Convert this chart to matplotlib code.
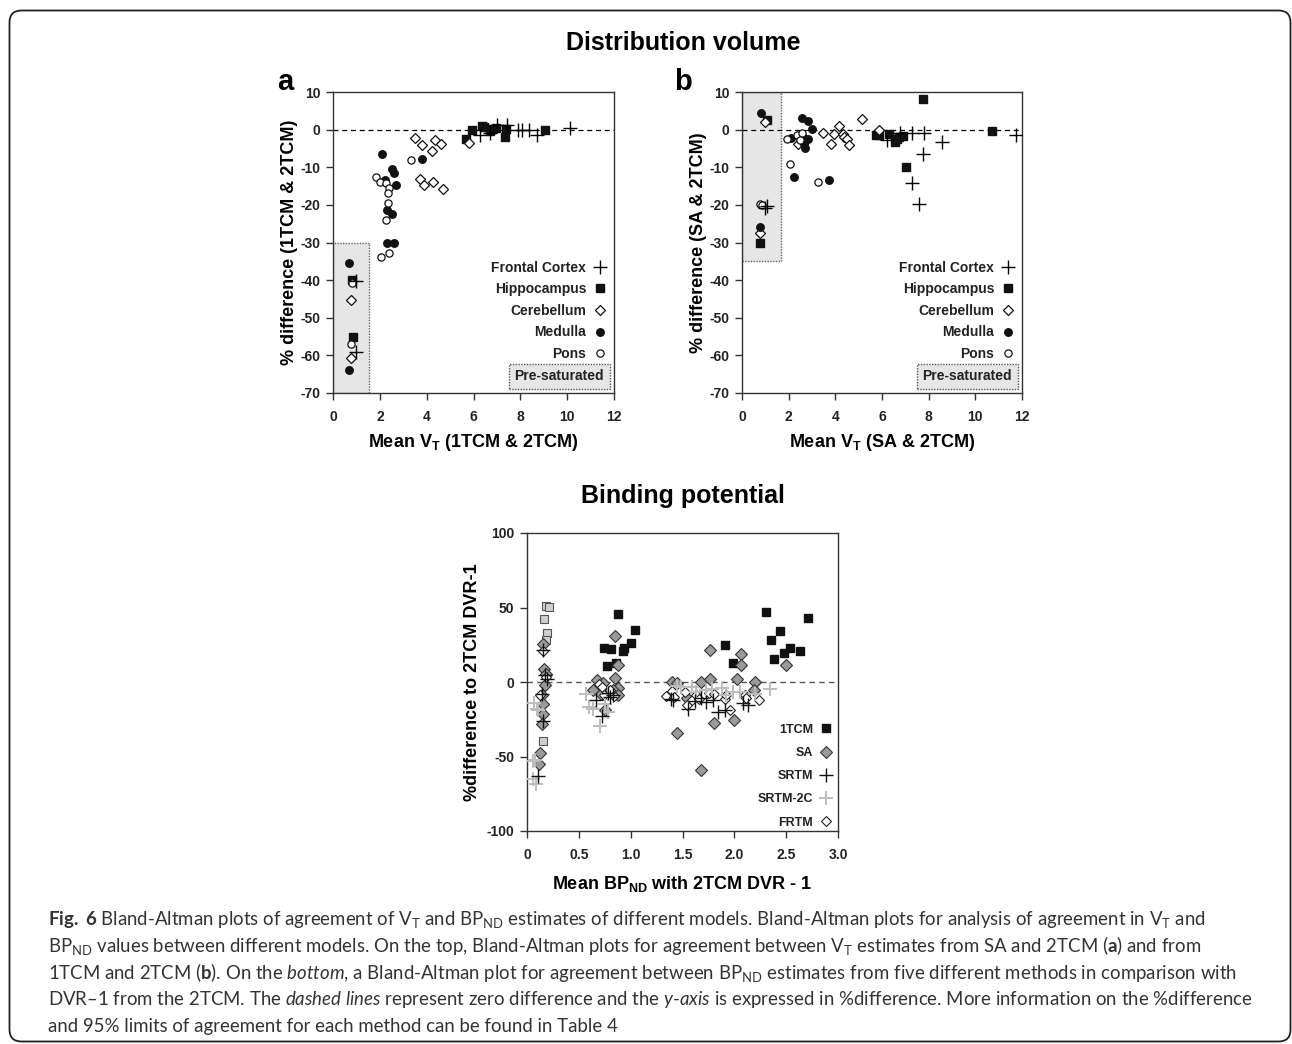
import matplotlib
matplotlib.use("Agg")
import matplotlib.pyplot as plt
from matplotlib.patches import FancyBboxPatch, Rectangle
from matplotlib.transforms import IdentityTransform

# ---------------- data ----------------
# Panel a : 1TCM vs 2TCM
a_fc_x = [0.97, 0.97, 6.28, 6.70, 6.99, 7.42, 7.92, 8.06, 8.38, 8.70, 10.10]
a_fc_y = [-40.2, -59.1, -1.5, -1.0, 1.2, 1.2, -0.2, -0.2, -0.2, -1.5, 0.3]
a_hip_x = [0.83, 0.85, 5.69, 5.94, 6.38, 6.43, 6.69, 6.80, 6.98, 7.35, 7.40, 9.04]
a_hip_y = [-40.0, -55.2, -2.4, 0.0, 0.9, 0.7, -0.3, 0.2, 0.5, -2.0, 0.2, 0.0]
a_cer_x = [0.75, 0.75, 3.49, 3.81, 4.23, 4.37, 4.60, 5.79, 3.72, 3.88, 4.27, 4.71]
a_cer_y = [-45.3, -60.7, -2.2, -4.1, -5.6, -2.8, -3.7, -3.5, -13.2, -14.7, -13.8, -15.7]
a_med_x = [0.68, 0.68, 2.09, 2.23, 2.52, 2.60, 2.68, 2.32, 2.53, 2.31, 2.62, 3.80]
a_med_y = [-35.4, -64.0, -6.4, -13.3, -10.5, -11.4, -14.6, -21.4, -22.4, -30.2, -30.2, -7.9]
a_pons_x = [0.80, 0.77, 1.85, 2.02, 2.25, 2.39, 2.35, 2.35, 2.28, 2.07, 2.38, 3.35]
a_pons_y = [-40.7, -56.9, -12.5, -14.0, -14.3, -15.5, -16.8, -19.5, -24.1, -33.8, -32.9, -8.2]
a_presat_x = [0.0, 1.52]
a_presat_y = [-70.0, -30.0]

# Panel b : SA vs 2TCM
b_fc_x = [1.07, 0.97, 6.20, 6.77, 7.27, 7.81, 7.74, 8.58, 7.30, 7.60, 11.76]
b_fc_y = [-20.3, -20.9, -2.8, -1.0, -0.8, -0.8, -6.5, -3.4, -14.1, -19.8, -1.3]
b_hip_x = [1.07, 0.78, 7.74, 5.73, 5.89, 6.30, 6.56, 6.66, 6.74, 6.91, 7.03, 10.73]
b_hip_y = [2.5, -30.0, 8.2, -1.3, -1.3, -1.1, -3.3, -2.4, -2.0, -1.8, -10.0, -0.4]
b_cer_x = [0.97, 0.78, 2.38, 3.49, 3.82, 3.95, 4.15, 4.32, 4.37, 4.49, 4.59, 5.14, 5.89]
b_cer_y = [2.0, -27.6, -3.7, -0.9, -3.9, -1.2, 0.9, -1.2, -1.9, -2.6, -4.1, 2.7, -0.2]
b_med_x = [0.80, 0.78, 2.11, 2.24, 2.59, 2.61, 2.82, 2.64, 2.68, 2.83, 3.01, 3.71]
b_med_y = [4.4, -25.8, -2.1, -12.5, 3.2, -1.9, -2.6, -3.7, -4.8, 2.2, 0.1, -13.3]
b_pons_x = [0.78, 0.85, 1.91, 2.07, 2.35, 2.57, 2.49, 3.25]
b_pons_y = [-19.9, -20.0, -2.6, -9.2, -1.5, -0.9, -2.8, -14.0]
b_presat_x = [0.0, 1.68]
b_presat_y = [-35.0, 10.0]

# Bottom : BPND
bp_1tcm_x = [0.74, 0.81, 0.77, 0.86, 0.88, 0.93, 0.94, 1.00, 1.04, 1.91, 1.99,
             2.31, 2.35, 2.38, 2.44, 2.48, 2.54, 2.63, 2.71]
bp_1tcm_y = [22.8, 22.1, 11.0, 13.0, 45.4, 21.0, 23.1, 26.4, 34.7, 24.6, 12.8,
             47.0, 28.0, 15.7, 34.0, 19.5, 23.0, 21.0, 43.2]
bp_light_x = [0.18, 0.21, 0.16, 0.19, 0.18, 0.15]
bp_light_y = [51.0, 50.5, 42.5, 33.0, 28.3, -39.3]
bp_sa_x = [0.15, 0.16, 0.18, 0.17, 0.14, 0.15, 0.15, 0.14, 0.13, 0.12,
           0.68, 0.73, 0.64, 0.75, 0.85, 0.85, 0.88, 0.88, 0.71, 0.83, 0.88,
           1.40, 1.45, 1.45, 1.68, 1.68, 1.77, 1.77, 1.80, 2.00, 2.03, 2.06,
           2.06, 2.20, 2.19, 2.50, 1.54]
bp_sa_y = [25.8, 9.0, 5.6, -2.2, -8.9, -14.5, -21.7, -28.0, -47.4, -55.0,
           1.1, -0.7, -5.1, -18.6, 30.6, 2.9, -3.8, 11.2, -7.8, -5.6, -8.9,
           0.0, -0.7, -34.0, -59.3, 0.0, 21.7, 1.8, -27.3, -25.7, 1.8, 19.0,
           11.6, 0.0, -5.6, 11.6, -10.5]
bp_srtm_x = [0.15, 0.17, 0.19, 0.14, 0.15, 0.11, 0.67, 0.72, 0.78, 0.80, 0.83,
             1.39, 1.41, 1.55, 1.73, 1.79, 1.84, 1.91, 2.08, 2.13, 1.62, 1.68]
bp_srtm_y = [21.3, 5.0, 2.2, -7.8, -26.4, -63.0, -11.8, -22.6, -7.4, -10.0, -8.9,
             -11.2, -12.3, -17.9, -13.4, -12.3, -20.4, -19.0, -14.0, -15.2, -13.0, -11.0]
bp_srtm2c_x = [0.06, 0.09, 0.08, 0.06, 0.10, 0.07, 0.11, 0.57, 0.60, 0.64, 0.70,
               0.75, 0.78, 0.78, 1.45, 1.49, 1.59, 1.63, 1.73, 1.78, 1.88, 1.92,
               1.99, 2.05, 2.20, 2.34]
bp_srtm2c_y = [-65.4, -68.2, -52.3, -52.7, -17.9, -13.8, -19.0, -7.8, -16.5, -17.9,
               -29.2, -14.5, -20.1, -7.8, -2.9, -3.4, -3.3, -6.7, -5.6, -5.0, -3.7,
               -8.9, -6.7, -6.7, -7.8, -4.5]
bp_frtm_x = [0.15, 0.18, 0.13, 0.69, 0.72, 0.77, 0.80, 0.84, 0.74, 1.34, 1.40,
             1.42, 1.52, 1.54, 1.59, 1.63, 1.66, 1.76, 1.80, 1.91, 1.92, 1.96,
             2.10, 2.11, 2.24]
bp_frtm_y = [20.8, 3.4, -9.0, -1.6, -3.4, -6.7, -5.6, -9.6, -8.9, -9.6, -6.3,
             -10.0, -6.7, -15.7, -11.9, -8.9, -11.2, -7.2, -7.8, -11.2, -8.9, -18.6,
             -8.9, -10.5, -11.9]

region_labels = ["Frontal Cortex", "Hippocampus", "Cerebellum", "Medulla", "Pons"]
method_labels = ["1TCM", "SA", "SRTM", "SRTM-2C", "FRTM"]
vt_xticks = [0, 2, 4, 6, 8, 10, 12]
vt_yticks = [-70, -60, -50, -40, -30, -20, -10, 0, 10]
bp_xticks = [0, 0.5, 1.0, 1.5, 2.0, 2.5, 3.0]
bp_xticklabels = ["0", "0.5", "1.0", "1.5", "2.0", "2.5", "3.0"]
bp_yticks = [-100, -50, 0, 50, 100]

caption_lines = [
    r"$\mathbf{Fig.}$ $\mathbf{6}$ Bland-Altman plots of agreement of V$_\mathregular{T}$ and BP$_\mathregular{ND}$ estimates of different models. Bland-Altman plots for analysis of agreement in V$_\mathregular{T}$ and",
    r"BP$_\mathregular{ND}$ values between different models. On the top, Bland-Altman plots for agreement between V$_\mathregular{T}$ estimates from SA and 2TCM ($\mathbf{a}$) and from",
    r"1TCM and 2TCM ($\mathbf{b}$). On the $\mathit{bottom}$, a Bland-Altman plot for agreement between BP$_\mathregular{ND}$ estimates from five different methods in comparison with",
    r"DVR–1 from the 2TCM. The $\mathit{dashed\ lines}$ represent zero difference and the $\mathit{y}$-$\mathit{axis}$ is expressed in %difference. More information on the %difference",
    r"and 95% limits of agreement for each method can be found in Table 4",
]

# ---------------- style ----------------
plt.rcParams['font.family'] = ['Liberation Sans', 'DejaVu Sans']
plt.rcParams['font.weight'] = 'bold'
plt.rcParams['axes.labelweight'] = 'bold'
plt.rcParams['axes.unicode_minus'] = False
plt.rcParams['mathtext.fontset'] = 'custom'
plt.rcParams['mathtext.rm'] = 'Lato:weight=normal'
plt.rcParams['mathtext.it'] = 'Lato:style=italic:weight=normal'
plt.rcParams['mathtext.bf'] = 'Lato:weight=bold'
plt.rcParams['mathtext.default'] = 'regular'

W, H = 1292, 1044
fig = plt.figure(figsize=(W / 100, H / 100), dpi=100)
fig.patch.set_facecolor('white')

def px_axes(l, t, r, b):
    return fig.add_axes([l / W, 1 - b / H, (r - l) / W, (b - t) / H])

SPINE = '#333333'

def style_axes(ax):
    for s in ax.spines.values():
        s.set_color(SPINE)
        s.set_linewidth(1.0)
    ax.tick_params(direction='out', length=5, width=1.0, color=SPINE,
                   labelsize=10, pad=4, top=False, right=False)
    ax.tick_params(axis='x', pad=7)
    for lab in ax.get_xticklabels() + ax.get_yticklabels():
        lab.set_fontweight('bold')
        lab.set_color('#222222')

def vt_panel(ax, fc, hip, cer, med, pons, presat, xlabel, ylabel):
    px, py = presat
    ax.add_patch(Rectangle((px[0], py[0]), px[1] - px[0], py[1] - py[0],
                           facecolor='#e6e6e6', edgecolor='#666666', lw=1.0,
                           ls=(0, (1, 1)), zorder=1))
    ax.axhline(0, color='black', lw=0.9, ls=(0, (4, 3)), zorder=2)
    h1, = ax.plot(fc[0], fc[1], ls='none', marker='+', ms=10, mew=1.0,
                  color='black', zorder=5)
    h2, = ax.plot(hip[0], hip[1], ls='none', marker='s', ms=5.4, mfc='#111111',
                  mec='#111111', zorder=4)
    h3, = ax.plot(cer[0], cer[1], ls='none', marker='D', ms=4.6, mfc='white',
                  mec='#111111', mew=0.9, zorder=4)
    h4, = ax.plot(med[0], med[1], ls='none', marker='o', ms=5.4, mfc='#111111',
                  mec='#111111', zorder=4)
    h5, = ax.plot(pons[0], pons[1], ls='none', marker='o', ms=5.2, mfc='white',
                  mec='#111111', mew=0.9, zorder=4)
    ax.set_xlim(0, 12)
    ax.set_ylim(-70, 10)
    ax.set_xticks(vt_xticks)
    ax.set_yticks(vt_yticks)
    ax.set_xlabel(xlabel, fontsize=13, labelpad=6)
    ax.set_ylabel(ylabel, fontsize=13, labelpad=2)
    style_axes(ax)
    leg = ax.legend([h1, h2, h3, h4, h5], region_labels, loc='upper right',
                    bbox_to_anchor=(0.975, 0.44), markerfirst=False,
                    frameon=False, fontsize=10, handlelength=1.0,
                    handletextpad=0.5, labelspacing=0.55, borderpad=0,
                    borderaxespad=0, numpoints=1)
    for t in leg.get_texts():
        t.set_fontweight('bold')
        t.set_color('#222222')
    ax.text(0.965, 0.055, 'Pre-saturated', transform=ax.transAxes, ha='right',
            va='center', fontsize=10, fontweight='bold', color='#222222',
            bbox=dict(boxstyle='square,pad=0.4', facecolor='#e6e6e6',
                      edgecolor='#555555', lw=1.0, ls=(0, (1, 1))))

# Panel a
ax_a = px_axes(333, 92, 614, 393)
vt_panel(ax_a, (a_fc_x, a_fc_y), (a_hip_x, a_hip_y), (a_cer_x, a_cer_y),
         (a_med_x, a_med_y), (a_pons_x, a_pons_y), (a_presat_x, a_presat_y),
         r"Mean V$_\mathregular{T}$ (1TCM & 2TCM)", "% difference (1TCM & 2TCM)")

# Panel b
ax_b = px_axes(742, 92, 1022, 393)
vt_panel(ax_b, (b_fc_x, b_fc_y), (b_hip_x, b_hip_y), (b_cer_x, b_cer_y),
         (b_med_x, b_med_y), (b_pons_x, b_pons_y), (b_presat_x, b_presat_y),
         r"Mean V$_\mathregular{T}$ (SA & 2TCM)", "% difference (SA & 2TCM)")

# Bottom panel
ax_c = px_axes(527, 533, 838, 831)
ax_c.axhline(0, color='#555555', lw=1.0, ls=(0, (4, 3)), zorder=1)
ax_c.plot(bp_light_x, bp_light_y, ls='none', marker='s', ms=5.5, mfc='#cfcfcf',
          mec='#555555', mew=0.8, zorder=3)
g1, = ax_c.plot(bp_1tcm_x, bp_1tcm_y, ls='none', marker='s', ms=6.0, mfc='#111111',
                mec='#111111', zorder=3)
g2, = ax_c.plot(bp_sa_x, bp_sa_y, ls='none', marker='D', ms=5.8, mfc='#9a9a9a',
                mec='#333333', mew=0.8, zorder=4)
g5, = ax_c.plot(bp_frtm_x, bp_frtm_y, ls='none', marker='D', ms=5.4, mfc='white',
                mec='#222222', mew=0.8, zorder=5)
g4, = ax_c.plot(bp_srtm2c_x, bp_srtm2c_y, ls='none', marker='+', ms=10, mew=1.4,
                color='#bdbdbd', zorder=6)
g3, = ax_c.plot(bp_srtm_x, bp_srtm_y, ls='none', marker='+', ms=10, mew=1.0,
                color='#111111', zorder=7)
ax_c.set_xlim(0, 3.0)
ax_c.set_ylim(-100, 100)
ax_c.set_xticks(bp_xticks)
ax_c.set_xticklabels(bp_xticklabels)
ax_c.set_yticks(bp_yticks)
ax_c.set_xlabel(r"Mean BP$_\mathregular{ND}$ with 2TCM DVR - 1", fontsize=13, labelpad=9)
ax_c.set_ylabel("%difference to 2TCM DVR-1", fontsize=13, labelpad=4)
style_axes(ax_c)
leg = ax_c.legend([g1, g2, g3, g4, g5], method_labels, loc='upper right',
                  bbox_to_anchor=(0.985, 0.36), markerfirst=False, frameon=False,
                  fontsize=9, handlelength=1.1, handletextpad=0.5,
                  labelspacing=0.9, borderpad=0, borderaxespad=0, numpoints=1)
for t in leg.get_texts():
    t.set_fontweight('bold')
    t.set_color('#222222')

# Titles and panel letters
fig.text(683 / W, 1 - 50 / H, "Distribution volume", ha='center', va='baseline',
         fontsize=18, fontweight='bold')
fig.text(683 / W, 1 - 503 / H, "Binding potential", ha='center', va='baseline',
         fontsize=18, fontweight='bold')
fig.text(285 / W, 1 - 90 / H, "a", ha='center', va='baseline', fontsize=21,
         fontweight='bold')
fig.text(683 / W, 1 - 90 / H, "b", ha='center', va='baseline', fontsize=21,
         fontweight='bold')

# Caption
cap_texts = []
for i, line in enumerate(caption_lines):
    t = fig.text(48 / W, 1 - (925 + 26.8 * i) / H, line, ha='left', va='baseline',
                 fontsize=12.5, fontweight='normal', color='#333333',
                 family=['Lato', 'DejaVu Sans'])
    cap_texts.append(t)
fig.canvas.draw()
r = fig.canvas.get_renderer()
wmax = max(t.get_window_extent(r).width for t in cap_texts)
scale = 1205.0 / wmax
for t in cap_texts:
    t.set_fontsize(12.5 * scale)

# Outer rounded frame
frame = FancyBboxPatch((9.5, 2.5), 1281, 1031, boxstyle='round,pad=0,rounding_size=12',
                       transform=IdentityTransform(), facecolor='none',
                       edgecolor='#222222', lw=1.3)
fig.patches.append(frame)

fig.savefig('out.png', dpi=100, facecolor='white')
